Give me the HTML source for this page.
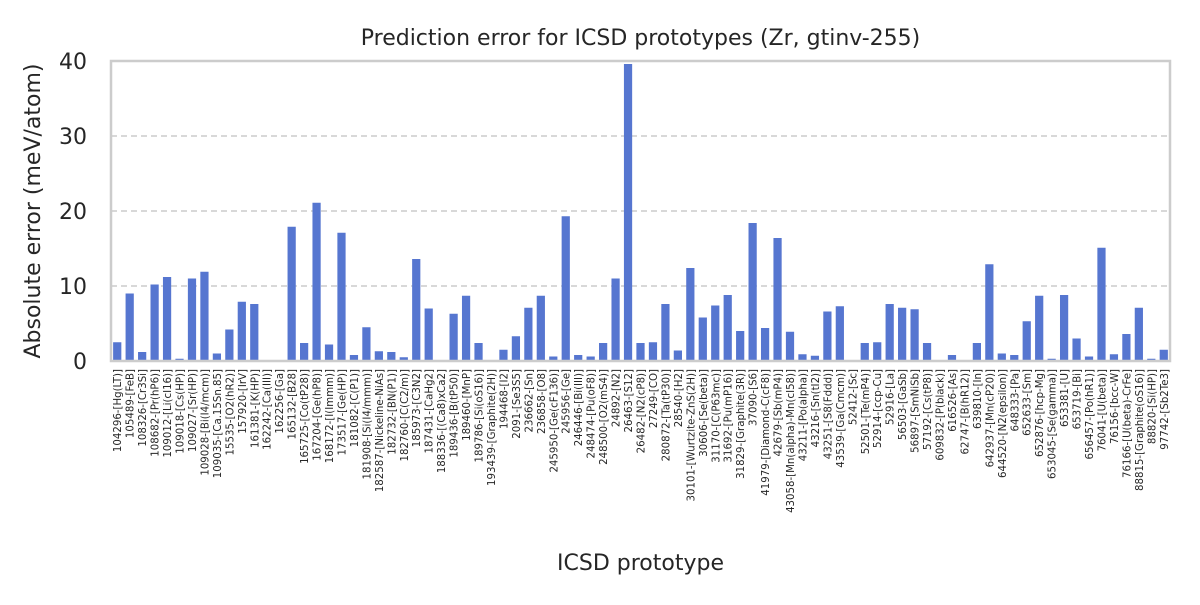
<!DOCTYPE html>
<html><head><meta charset="utf-8"><style>
body{margin:0;background:#fff;}
svg{font-family:"DejaVu Sans","Liberation Sans",sans-serif;}
</style></head><body>
<svg id="chart" width="1200" height="600"></svg>
<script>
const categories = ["104296-[Hg(LT)]","105489-[FeB]","108326-[Cr3Si]","108682-[Pr(hP6)]","109012-[Li(cI16)]","109018-[Cs(HP)]","109027-[Sr(HP)]","109028-[Bi(I4/mcm)]","109035-[Ca.15Sn.85]","15535-[O2(hR2)]","157920-[IrV]","161381-[K(HP)]","162242-[Ca(III)]","162256-[Ga]","165132-[B28]","165725-[Co(tP28)]","167204-[Ge(hP8)]","168172-[I(Immm)]","173517-[Ge(HP)]","181082-[C(P1)]","181908-[Si(I4/mmm)]","182587-[Nickeline-NiAs]","182732-[BN(P1)]","182760-[C(C2/m)]","185973-[C3N2]","187431-[CaHg2]","188336-[(Ca8)xCa2]","189436-[B(tP50)]","189460-[MnP]","189786-[Si(oS16)]","193439-[Graphite(2H)]","194468-[I2]","2091-[Se3S5]","236662-[Sn]","236858-[O8]","245950-[Ge(cF136)]","245956-[Ge]","246446-[Bi(III)]","248474-[Pu(oF8)]","248500-[O2(mS4)]","24892-[N2]","26463-[S12]","26482-[N2(cP8)]","27249-[CO]","280872-[Ta(tP30)]","28540-[H2]","30101-[Wurtzite-ZnS(2H)]","30606-[Se(beta)]","31170-[C(P63mc)]","31692-[Pu(mP16)]","31829-[Graphite(3R)]","37090-[S6]","41979-[Diamond-C(cF8)]","42679-[Sb(mP4)]","43058-[Mn(alpha)-Mn(cI58)]","43211-[Po(alpha)]","43216-[Sn(tI2)]","43251-[S8(Fddd)]","43539-[Ga(Cmcm)]","52412-[Sc]","52501-[Te(mP4)]","52914-[ccp-Cu]","52916-[La]","56503-[GaSb]","56897-[SmNiSb]","57192-[Cs(tP8)]","609832-[P(black)]","616526-[As]","62747-[B(hR12)]","639810-[In]","642937-[Mn(cP20)]","644520-[N2(epsilon)]","648333-[Pa]","652633-[Sm]","652876-[hcp-Mg]","653045-[Se(gamma)]","653381-[U]","653719-[Bi]","656457-[Po(hR1)]","76041-[U(beta)]","76156-[bcc-W]","76166-[U(beta)-CrFe]","88815-[Graphite(oS16)]","88820-[Si(HP)]","97742-[Sb2Te3]"];
const values = [2.5,9,1.2,10.2,11.2,0.3,11,11.9,1.0,4.2,7.9,7.6,0,0,17.9,2.4,21.1,2.2,17.1,0.8,4.5,1.3,1.2,0.5,13.6,7.0,0,6.3,8.7,2.4,0,1.5,3.3,7.1,8.7,0.6,19.3,0.8,0.6,2.4,11,39.6,2.4,2.5,7.6,1.4,12.4,5.8,7.4,8.8,4.0,18.4,4.4,16.4,3.9,0.9,0.7,6.6,7.3,0,2.4,2.5,7.6,7.1,6.9,2.4,0,0.8,0,2.4,12.9,1.0,0.8,5.3,8.7,0.3,8.8,3.0,0.6,15.1,0.9,3.6,7.1,0.3,1.5];
const yTicks = [0,10,20,30,40];

const NS="http://www.w3.org/2000/svg";
const svg=document.getElementById('chart');
const X0=111,X1=1170,Y0=361,Y1=61,YMAX=40;
const bw=(X1-X0)/categories.length;
const xc=i=>X0+bw*(i+0.5);
const y=v=>Y0-(v/YMAX)*(Y0-Y1);
function mk(tag,attrs,parent){const e=document.createElementNS(NS,tag);for(const k in attrs)e.setAttribute(k,attrs[k]);(parent||svg).appendChild(e);return e;}

const grid=mk('g',{});


yTicks.forEach(t=>{
  if(t>0&&t<YMAX){const l=mk('line',{x1:X0,x2:X1,y1:y(t),y2:y(t),stroke:'#cccccc','stroke-width':1.5,'stroke-dasharray':'6,4'},grid);
  
  }
  const tx=mk('text',{x:X0-24,y:y(t)+8,'text-anchor':'end','font-size':22,fill:'#262626'});
  tx.textContent=t;
  
  
});

const bars=mk('g',{});


values.forEach((v,i)=>{
  const w=bw*0.66;
  const r=mk('rect',{x:xc(i)-w/2,y:y(v),width:w,height:Y0-y(v),fill:'#5676d0'},bars);
  
  
  const t=mk('text',{'font-size':10.2,fill:'#262626','text-anchor':'end',transform:`translate(${xc(i)+4},369) rotate(-90)`});
  t.textContent=categories[i];
  
  
});

const frame=mk('rect',{x:X0,y:Y1,width:X1-X0,height:Y0-Y1,fill:'none',stroke:'#cccccc','stroke-width':2.5});



const title=mk('text',{x:(X0+X1)/2,y:45,'text-anchor':'middle','font-size':22,fill:'#262626'});
title.textContent='Prediction error for ICSD prototypes (Zr, gtinv-255)';



const xl=mk('text',{x:(X0+X1)/2,y:570,'text-anchor':'middle','font-size':22,fill:'#262626'});
xl.textContent='ICSD prototype';



const yl=mk('text',{'text-anchor':'middle','font-size':22,fill:'#262626',transform:`translate(40,211) rotate(-90)`});
yl.textContent='Absolute error (meV/atom)';


</script>
</body></html>
